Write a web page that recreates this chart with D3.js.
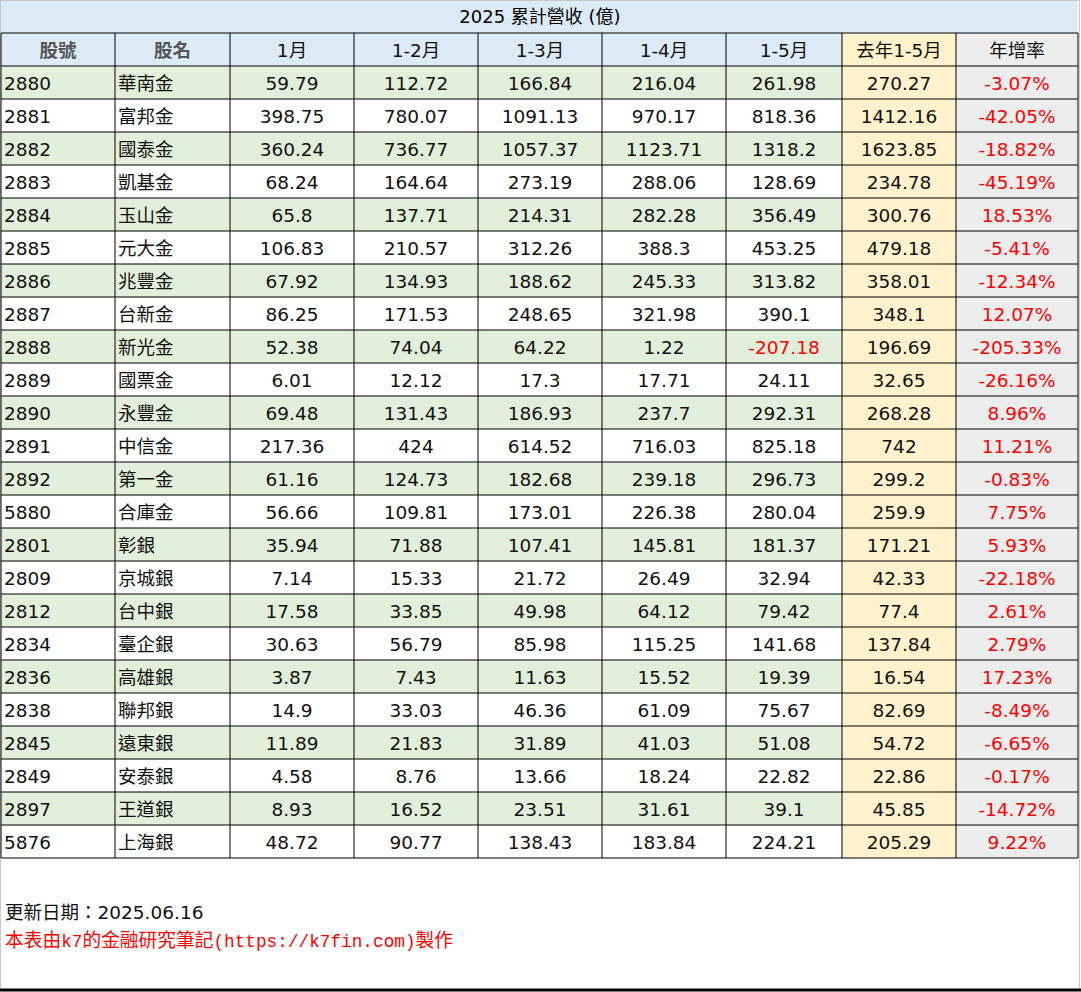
<!DOCTYPE html>
<html><head><meta charset="utf-8">
<script src="https://cdn.jsdelivr.net/npm/d3@7"></script>
<style>body{margin:0;background:#fff}</style></head>
<body><svg id="c" width="1081" height="992"></svg>
<script>
const title = "2025 累計營收 (億)";
const headers = ["股號","股名","1月","1-2月","1-3月","1-4月","1-5月","去年1-5月","年增率"];
const codes = ["2880","2881","2882","2883","2884","2885","2886","2887","2888","2889","2890","2891","2892","5880","2801","2809","2812","2834","2836","2838","2845","2849","2897","5876"];
const names = ["華南金","富邦金","國泰金","凱基金","玉山金","元大金","兆豐金","台新金","新光金","國票金","永豐金","中信金","第一金","合庫金","彰銀","京城銀","台中銀","臺企銀","高雄銀","聯邦銀","遠東銀","安泰銀","王道銀","上海銀"];
const m1 = ["59.79","398.75","360.24","68.24","65.8","106.83","67.92","86.25","52.38","6.01","69.48","217.36","61.16","56.66","35.94","7.14","17.58","30.63","3.87","14.9","11.89","4.58","8.93","48.72"];
const m2 = ["112.72","780.07","736.77","164.64","137.71","210.57","134.93","171.53","74.04","12.12","131.43","424","124.73","109.81","71.88","15.33","33.85","56.79","7.43","33.03","21.83","8.76","16.52","90.77"];
const m3 = ["166.84","1091.13","1057.37","273.19","214.31","312.26","188.62","248.65","64.22","17.3","186.93","614.52","182.68","173.01","107.41","21.72","49.98","85.98","11.63","46.36","31.89","13.66","23.51","138.43"];
const m4 = ["216.04","970.17","1123.71","288.06","282.28","388.3","245.33","321.98","1.22","17.71","237.7","716.03","239.18","226.38","145.81","26.49","64.12","115.25","15.52","61.09","41.03","18.24","31.61","183.84"];
const m5 = ["261.98","818.36","1318.2","128.69","356.49","453.25","313.82","390.1","-207.18","24.11","292.31","825.18","296.73","280.04","181.37","32.94","79.42","141.68","19.39","75.67","51.08","22.82","39.1","224.21"];
const last = ["270.27","1412.16","1623.85","234.78","300.76","479.18","358.01","348.1","196.69","32.65","268.28","742","299.2","259.9","171.21","42.33","77.4","137.84","16.54","82.69","54.72","22.86","45.85","205.29"];
const yoy = ["-3.07%","-42.05%","-18.82%","-45.19%","18.53%","-5.41%","-12.34%","12.07%","-205.33%","-26.16%","8.96%","11.21%","-0.83%","7.75%","5.93%","-22.18%","2.61%","2.79%","17.23%","-8.49%","-6.65%","-0.17%","-14.72%","9.22%"];
const footer1 = "更新日期：2025.06.16";
const footer2Parts = [["本表由",1],["k7",0],["的金融研究筆記",1],["(https://k7fin.com)",0],["製作",1]];

const svg = d3.select("#c");
const font = "'DejaVu Sans','Noto Sans CJK TC',sans-serif";
const colEdges = [1,115,230,354,478,602,726,842,956,1078];
const cx = i => colEdges[i], cw = i => colEdges[i+1]-colEdges[i];
const y = d3.scaleBand().domain(d3.range(-1,24)).range([33,858]);
const cols = [codes,names,m1,m2,m3,m4,m5,last,yoy];

svg.append("rect").attr("x",0.5).attr("y",0.5).attr("width",1079).attr("height",990).attr("fill","#fff").attr("stroke","#c8c8c8");
svg.append("line").attr("x1",0).attr("x2",1081).attr("y1",990).attr("y2",990).attr("stroke","#000").attr("stroke-width",3);
svg.append("rect").attr("x",1).attr("y",1).attr("width",1077).attr("height",32).attr("fill","#ddebf7");
svg.append("text").attr("x",540).attr("y",23).attr("text-anchor","middle").attr("font-family",font).attr("font-size",18).text(title);

function bg(c,r){
  if(c===7) return "#fff2cc";
  if(c===8) return "#ededed";
  if(r===-1) return "#ddebf7";
  return r%2===0 ? "#e2efda" : "#ffffff";
}
const g = svg.append("g");
for(let r=-1;r<24;r++){
  for(let c=0;c<9;c++){
    g.append("rect").attr("x",cx(c)).attr("y",y(r)).attr("width",cw(c)).attr("height",y.bandwidth()).attr("fill",bg(c,r));
    let t = r===-1 ? headers[c] : cols[c][r];
    const red = r>=0 && (c===8 || (+t<0 && c<8));
    const left = r>=0 && c<2;
    g.append("text").attr("x", left ? cx(c)+3 : cx(c)+cw(c)/2).attr("y",y(r)+y.bandwidth()/2+7)
      .attr("text-anchor", left?"start":"middle").attr("font-family",font).attr("font-size",18.5)
      .attr("font-weight", r===-1&&c<2?"bold":"normal")
      .attr("fill", red?"#ff0000":(r===-1&&c<2?"#555":"#111")).text(t);
  }
}
colEdges.forEach(v=>g.append("line").attr("x1",v).attr("x2",v).attr("y1",33).attr("y2",858).attr("stroke","#000"));
for(let r=-1;r<=24;r++){
  const yy = r<24? y(r) : 858;
  g.append("line").attr("x1",1).attr("x2",1078).attr("y1",yy).attr("y2",yy).attr("stroke","#000");
}
svg.append("text").attr("x",5).attr("y",919).attr("font-family",font).attr("font-size",18.5).attr("fill","#111").text(footer1);
const f2 = svg.append("text").attr("x",5).attr("y",947).attr("fill","#ff0000")
  .attr("textLength",448).attr("lengthAdjust","spacingAndGlyphs");
footer2Parts.forEach(([t,cjk])=>f2.append("tspan").text(t)
  .attr("font-family", cjk?"'Noto Sans CJK TC',sans-serif":"'Liberation Mono',monospace")
  .attr("font-size", cjk?19:18));
</script></body></html>
